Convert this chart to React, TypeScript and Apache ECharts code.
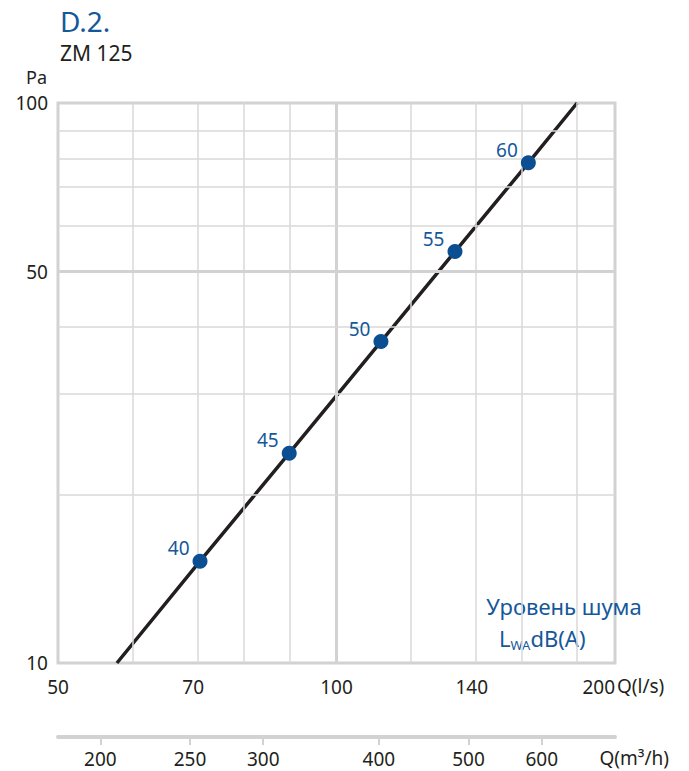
import React, { useEffect, useRef } from "react";
import * as echarts from "echarts";

// ---- data ----
const noiseLevels = [40, 45, 50, 55, 60];
const pointQ = [71.2, 88.9, 111.7, 134.3, 161.2]; // l/s
const pointP = [15.2, 23.7, 37.5, 54.3, 78.2]; // Pa
const curveQ = [57.9, 71.2, 88.9, 111.7, 134.3, 161.2, 182];
const curveP = [10, 15.2, 23.7, 37.5, 54.3, 78.2, 100];

const xLabelTicks = [50, 70, 100, 140, 200];
const yLabelTicks = [10, 50, 100];
const m3hTicks = [200, 250, 300, 400, 500, 600];
const xMinorGrid = [60, 70, 80, 90, 120, 140, 160, 180];
const xMajorGrid = [100];
const yMinorGrid = [20, 30, 40, 60, 70, 80, 90];
const yMajorGrid = [50];

const FONT = "'Noto Sans', 'Open Sans', sans-serif";
const BLUE = "#0b4f92";
const TXT_BLUE = "#15589a";
const GRID = "#d9d9d9";
const FRAME = "#d2d2d2";

const lg = (v: number) => Math.log10(v);

export default function App() {
  const ref = useRef<HTMLDivElement>(null);
  useEffect(() => {
    if (!ref.current) return;
    const chart = echarts.init(ref.current, undefined, { renderer: "svg" });
    const gridLines = [
      ...xMinorGrid.map((v) => ({ xAxis: lg(v), lineStyle: { color: GRID, width: 1.5, type: "solid" } })),
      ...xMajorGrid.map((v) => ({ xAxis: lg(v), lineStyle: { color: FRAME, width: 3, type: "solid" } })),
      ...yMinorGrid.map((v) => ({ yAxis: lg(v), lineStyle: { color: GRID, width: 1.5, type: "solid" } })),
      ...yMajorGrid.map((v) => ({ yAxis: lg(v), lineStyle: { color: FRAME, width: 3, type: "solid" } })),
    ];
    const option: any = {
      animation: false,
      grid: {
        left: 58,
        right: 74,
        top: 103,
        bottom: 108,
        show: true,
        borderColor: FRAME,
        borderWidth: 3,
        backgroundColor: "transparent",
      },
      xAxis: [
        {
          type: "value",
          min: lg(50),
          max: lg(200),
          axisLine: { show: false },
          axisTick: { show: false },
          splitLine: { show: false },
          axisLabel: {
            customValues: xLabelTicks.map(lg),
            formatter: (v: number) => String(Math.round(Math.pow(10, v))),
            margin: 14,
            fontSize: 19,
            color: "#231f20",
            fontFamily: FONT,
            alignMaxLabel: "right",
          },
        },
        {
          type: "value",
          position: "bottom",
          offset: 74,
          min: lg(50 * 3.6),
          max: lg(200 * 3.6),
          axisLine: { show: true, lineStyle: { color: FRAME, width: 4 } },
          axisTick: {
            show: true,
            customValues: m3hTicks.map(lg),
            length: 8,
            lineStyle: { color: FRAME, width: 2 },
          },
          splitLine: { show: false },
          axisLabel: {
            customValues: m3hTicks.map(lg),
            formatter: (v: number) => String(Math.round(Math.pow(10, v))),
            margin: 12,
            fontSize: 19,
            color: "#231f20",
            fontFamily: FONT,
          },
        },
      ],
      yAxis: {
        type: "value",
        min: lg(10),
        max: lg(100),
        axisLine: { show: false },
        axisTick: { show: false },
        splitLine: { show: false },
        axisLabel: {
          customValues: yLabelTicks.map(lg),
          formatter: (v: number) => String(Math.round(Math.pow(10, v))),
          margin: 10,
          fontSize: 19,
          color: "#231f20",
          fontFamily: FONT,
        },
      },
      series: [
        {
          type: "line",
          data: [],
          z: 1,
          silent: true,
          markLine: {
            silent: true,
            symbol: ["none", "none"],
            label: { show: false },
            animation: false,
            data: gridLines,
          },
        },
        {
          type: "line",
          z: 2,
          data: curveQ.map((q, i) => [lg(q), lg(curveP[i])]),
          showSymbol: false,
          lineStyle: { color: "#231f20", width: 3.5 },
          silent: true,
        },
        {
          type: "scatter",
          z: 10,
          zlevel: 1,
          symbolSize: 15,
          itemStyle: { color: BLUE, opacity: 1 },
          data: pointQ.map((q, i) => ({ value: [lg(q), lg(pointP[i])], name: String(noiseLevels[i]) })),
          label: {
            show: true,
            formatter: (p: any) => p.name,
            position: "left",
            offset: [2, -13],
            color: TXT_BLUE,
            opacity: 1,
            fontSize: 19,
            fontFamily: FONT,
          },
        },
      ],
      graphic: [
        { type: "text", left: 60, top: 7, style: { text: "D.2.", fontSize: 28, fill: TXT_BLUE, fontFamily: FONT } },
        { type: "text", left: 60, top: 42, style: { text: "ZM 125", fontSize: 21, fill: "#231f20", fontFamily: FONT } },
        { type: "text", x: 47, y: 77, style: { text: "Pa", fontSize: 18, fill: "#231f20", fontFamily: FONT, align: "right", verticalAlign: "middle" } },
        { type: "text", x: 617, y: 686, style: { text: "Q(l/s)", fontSize: 19, fill: "#231f20", fontFamily: FONT, align: "left", verticalAlign: "middle" } },
        { type: "text", x: 669, y: 758, style: { text: "Q(m³/h)", fontSize: 19, fill: "#231f20", fontFamily: FONT, align: "right", verticalAlign: "middle" } },
        { type: "text", x: 564, y: 606, style: { text: "Уровень шума", fontSize: 22, fill: TXT_BLUE, fontFamily: FONT, align: "center", verticalAlign: "middle" } },
        {
          type: "text",
          x: 499,
          y: 638,
          style: {
            text: "{a|L}{s|WA}{a|dB(A)}",
            fill: TXT_BLUE,
            fontFamily: FONT,
            align: "left",
            verticalAlign: "middle",
            rich: {
              a: { fontSize: 22, fill: TXT_BLUE, fontFamily: FONT, verticalAlign: "middle" },
              s: { fontSize: 13, fill: TXT_BLUE, fontFamily: FONT, padding: [14, 0, 0, 0] },
            },
          },
        },
      ],
    };
    chart.setOption(option);
    return () => chart.dispose();
  }, []);
  return <div ref={ref} style={{ width: 689, height: 771, position: "absolute", left: 0, top: 0 }} />;
}
